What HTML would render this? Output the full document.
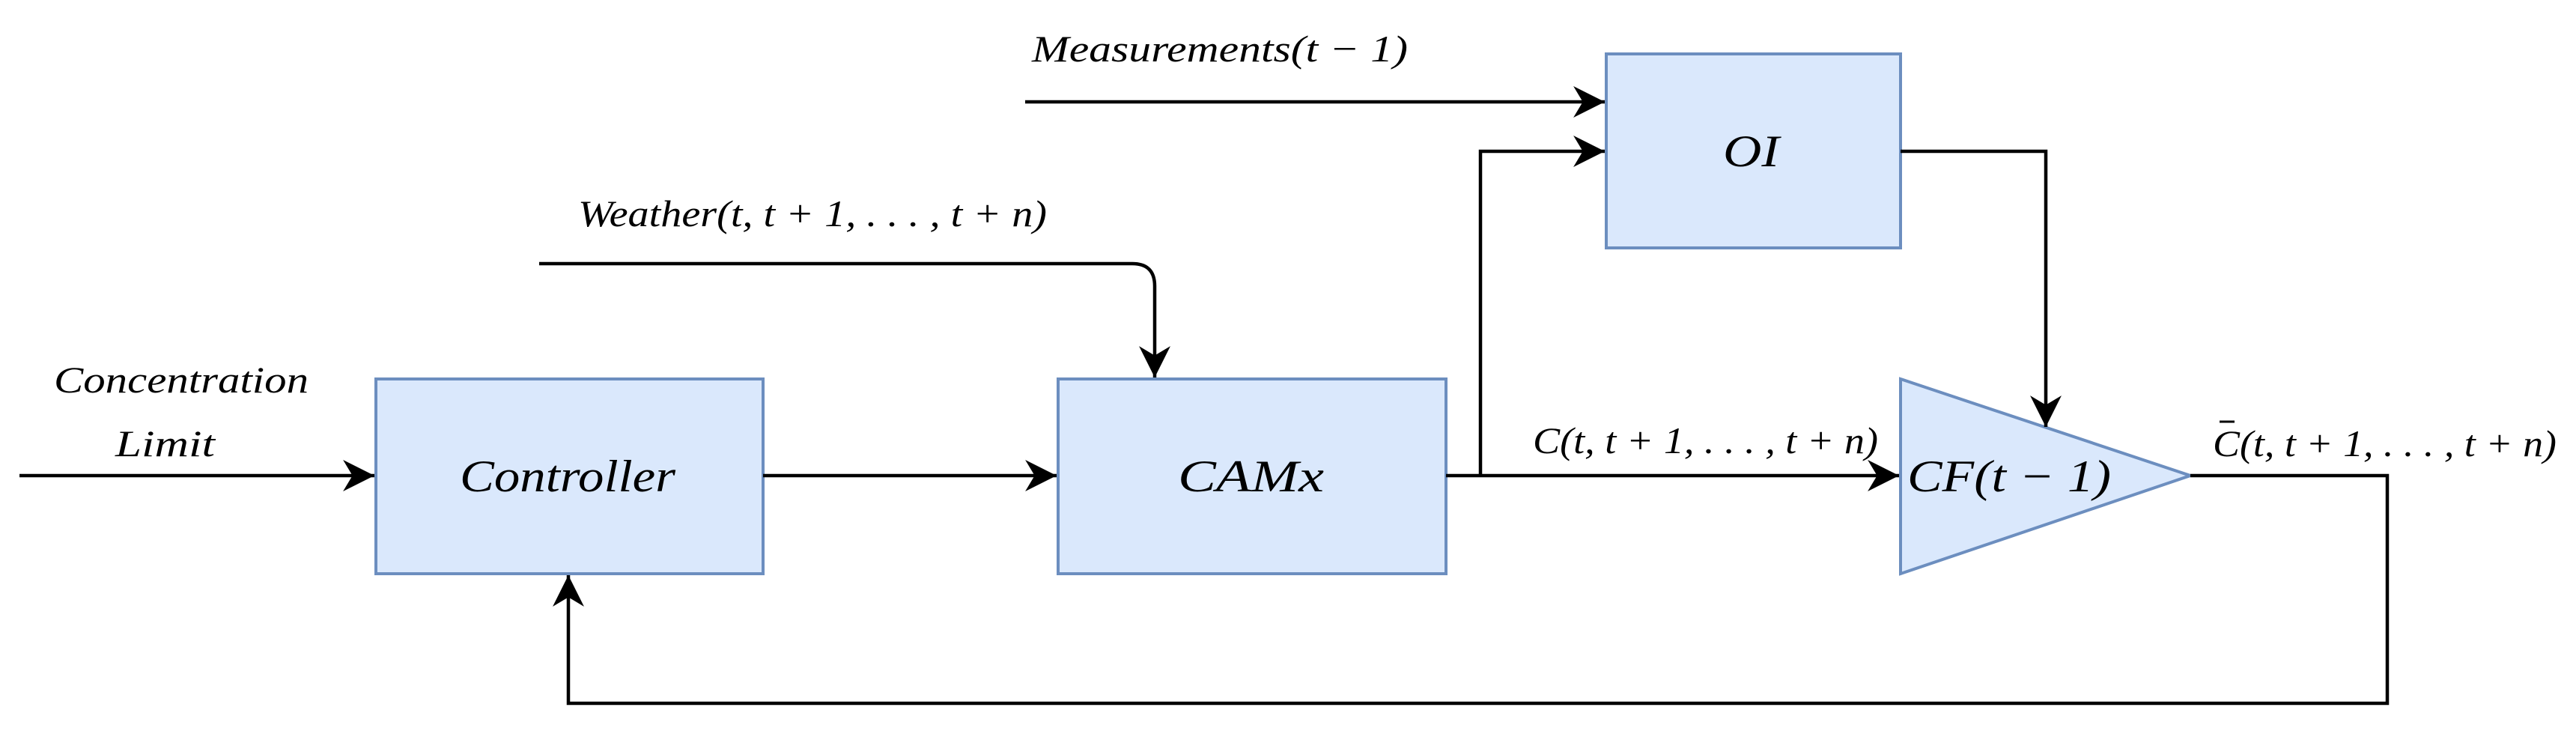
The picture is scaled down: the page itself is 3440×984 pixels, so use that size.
<!DOCTYPE html>
<html><head><meta charset="utf-8"><style>
html,body{margin:0;padding:0;background:#fff;width:3440px;height:984px;overflow:hidden}
svg text{font-family:"Liberation Serif",serif;font-style:italic;fill:#000}
</style></head><body>
<svg width="3440" height="984" viewBox="0 0 3440 984" xmlns="http://www.w3.org/2000/svg">
<defs>
<marker id="a" markerUnits="userSpaceOnUse" markerWidth="44" markerHeight="44" viewBox="0 0 42 42" refX="40" refY="21" orient="auto">
<path d="M0,1 L40,21 L0,41 L12,21 Z" fill="#000"/>
</marker>
</defs>
<g fill="#dae8fc" stroke="#6c8ebf" stroke-width="4">
<rect x="502" y="506" width="517" height="260"/>
<rect x="1413" y="506" width="518" height="260"/>
<rect x="2145" y="72" width="393" height="259"/>
<path d="M2538,506 L2925,635 L2538,766 Z"/>
</g>
<g fill="none" stroke="#000" stroke-width="4.5">
<path d="M26,635 H500" marker-end="url(#a)"/>
<path d="M1019,635 H1411" marker-end="url(#a)"/>
<path d="M1931,635 H2536" marker-end="url(#a)"/>
<path d="M1369,136 H2143" marker-end="url(#a)"/>
<path d="M1977,635 V202 H2143" marker-end="url(#a)"/>
<path d="M2538,202 H2732 V570" marker-end="url(#a)"/>
<path d="M720,352 H1512 Q1542,352 1542,382 V504" marker-end="url(#a)"/>
<path d="M2925,635 H3188 V939 H759 V768" marker-end="url(#a)"/>
</g>
<g font-size="50">
<text x="1378" y="82" textLength="502" lengthAdjust="spacingAndGlyphs">Measurements(t − 1)</text>
<text x="772" y="302" textLength="626" lengthAdjust="spacingAndGlyphs">Weather(t, t + 1, . . . , t + n)</text>
<text x="72" y="524" textLength="340" lengthAdjust="spacingAndGlyphs">Concentration</text>
<text x="154" y="609" textLength="133" lengthAdjust="spacingAndGlyphs">Limit</text>
<text x="2047" y="605" textLength="461" lengthAdjust="spacingAndGlyphs">C(t, t + 1, . . . , t + n)</text>
<text x="2955" y="609" textLength="459" lengthAdjust="spacingAndGlyphs">C(t, t + 1, . . . , t + n)</text>
<line x1="2964" y1="563" x2="2984" y2="563" stroke="#000" stroke-width="3"/>
</g>
<g font-size="60">
<text x="614" y="656" textLength="288" lengthAdjust="spacingAndGlyphs">Controller</text>
<text x="1573" y="656" textLength="195" lengthAdjust="spacingAndGlyphs">CAMx</text>
<text x="2301" y="222" textLength="75" lengthAdjust="spacingAndGlyphs">OI</text>
<text x="2547" y="656" textLength="272" lengthAdjust="spacingAndGlyphs">CF(t − 1)</text>
</g>
</svg>
</body></html>
